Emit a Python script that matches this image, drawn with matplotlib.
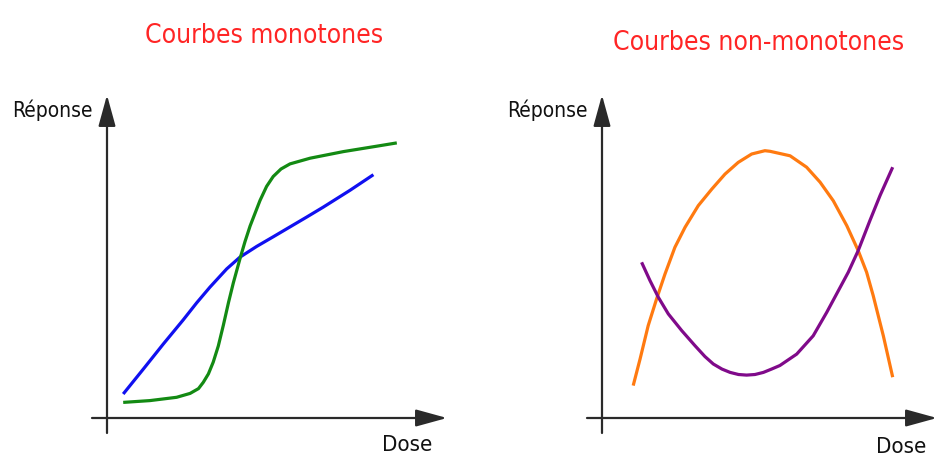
import matplotlib
matplotlib.use("Agg")
import matplotlib.pyplot as plt
from matplotlib import font_manager

# ---------------- data (dose, response) ----------------
blue_dose = [0.54, 1.21, 1.88, 2.54, 2.99, 3.43, 3.99, 4.43, 4.99, 5.54, 6.10, 6.66,
             7.21, 8.10, 8.88]
blue_resp = [0.80, 1.63, 2.47, 3.27, 3.84, 4.36, 4.97, 5.36, 5.72, 6.04, 6.37, 6.70,
             7.03, 7.59, 8.11]

green_dose = [0.54, 1.43, 2.32, 2.77, 3.05, 3.21, 3.38, 3.54, 3.71, 3.88, 4.05, 4.21,
              4.43, 4.60, 4.77, 5.10, 5.32, 5.54, 5.80, 6.10, 6.77, 7.88, 8.99, 9.66]
green_resp = [0.52, 0.58, 0.69, 0.82, 0.98, 1.19, 1.47, 1.86, 2.40, 3.10, 3.85, 4.50,
              5.30, 5.88, 6.40, 7.25, 7.72, 8.05, 8.30, 8.47, 8.66, 8.88, 9.06, 9.17]

orange_dose = [1.04, 1.27, 1.54, 1.82, 2.10, 2.43, 2.77, 3.21, 3.66, 4.10, 4.54, 4.99,
               5.43, 5.60, 6.27, 6.82, 7.27, 7.71, 8.16, 8.54, 8.82, 9.04, 9.38, 9.69]
orange_resp = [1.08, 1.97, 3.08, 3.97, 4.80, 5.69, 6.36, 7.08, 7.63, 8.13, 8.52, 8.80,
               8.91, 8.89, 8.74, 8.36, 7.86, 7.24, 6.41, 5.58, 4.86, 4.08, 2.73, 1.36]

purple_dose = [1.32, 1.60, 1.88, 2.21, 2.66, 3.10, 3.43, 3.71, 4.00, 4.27, 4.55, 4.82,
               5.10, 5.38, 5.65, 5.93, 6.49, 7.04, 7.49, 8.21, 8.54, 8.93, 9.27, 9.69]
purple_resp = [5.19, 4.58, 4.02, 3.47, 2.91, 2.41, 2.05, 1.80, 1.63, 1.52, 1.45, 1.43,
               1.45, 1.52, 1.63, 1.75, 2.13, 2.74, 3.52, 4.86, 5.58, 6.58, 7.42, 8.36]

titles = ["Courbes monotones", "Courbes non-monotones"]
ylabel = "Réponse"
xlabel = "Dose"

# ---------------- layout ----------------
W, H = 938, 460
PX = 30.0  # pixels per data unit

plt.rcParams["font.family"] = ["DejaVu Sans"]
has_cond = any(f.name == "DejaVu Sans" and str(f.stretch) in ("condensed", "semi-condensed")
               for f in font_manager.fontManager.ttflist)
if has_cond:
    stretch = "condensed"
    fs_title, fs_lab, fs_dose = 19, 15, 16
else:
    stretch = "normal"
    fs_title, fs_lab, fs_dose = 17, 13, 13.5

fig = plt.figure(figsize=(W / 100, H / 100), dpi=100)
fig.patch.set_facecolor("white")


def make_axes(x0_px, y0_px, left_px, right_px, top_px, bottom_px):
    ax = fig.add_axes([left_px / W, 1 - bottom_px / H,
                       (right_px - left_px) / W, (bottom_px - top_px) / H])
    ax.set_xlim((left_px - x0_px) / PX, (right_px - x0_px) / PX)
    ax.set_ylim((y0_px - bottom_px) / PX, (y0_px - top_px) / PX)
    ax.axis("off")
    return ax


def draw_axes_arrows(ax, x0_px, y0_px, xstart_px, xtip_px, ybot_px, ytip_px):
    axis_col = "#2a2a2a"
    ap = dict(arrowstyle="-|>,head_length=1.2,head_width=0.33", lw=1.6,
              color=axis_col, shrinkA=0, shrinkB=0, mutation_scale=16)
    ax.annotate("", xy=((xtip_px - x0_px) / PX, 0), xytext=((xstart_px - x0_px) / PX, 0),
                arrowprops=ap, annotation_clip=False)
    ax.annotate("", xy=(0, (y0_px - ytip_px) / PX), xytext=(0, (y0_px - ybot_px) / PX),
                arrowprops=ap, annotation_clip=False)


lw = 2.3
style = dict(lw=lw, solid_capstyle="butt", solid_joinstyle="round")
# Left panel
axL = make_axes(107, 419, 80, 455, 85, 445)
draw_axes_arrows(axL, 107, 419, 92, 447, 434, 96)
axL.plot(blue_dose, blue_resp, color="#1010f0", **style)
axL.plot(green_dose, green_resp, color="#138a13", **style)

# Right panel
axR = make_axes(602, 419, 575, 938, 85, 445)
draw_axes_arrows(axR, 602, 419, 587, 937, 434, 96)
axR.plot(orange_dose, orange_resp, color="#ff7a10", **style)
axR.plot(purple_dose, purple_resp, color="#800a8a", **style)

title_col = "#ff2525"
fig.text(264 / W, 1 - 36 / H, titles[0], color=title_col, fontsize=fs_title,
         fontstretch=stretch, ha="center", va="center")
fig.text(759 / W, 1 - 43 / H, titles[1], color=title_col, fontsize=fs_title,
         fontstretch=stretch, ha="center", va="center")

for (xc, yc) in [(52, 110), (547, 110)]:
    fig.text(xc / W, 1 - yc / H, ylabel, color="#111111", fontsize=fs_lab,
             fontstretch=stretch, ha="center", va="center")
for (xc, yc) in [(407, 445), (901, 447)]:
    fig.text(xc / W, 1 - yc / H, xlabel, color="#111111", fontsize=fs_dose,
             fontstretch=stretch, ha="center", va="center")

fig.savefig("out.png", dpi=100, facecolor="white")
